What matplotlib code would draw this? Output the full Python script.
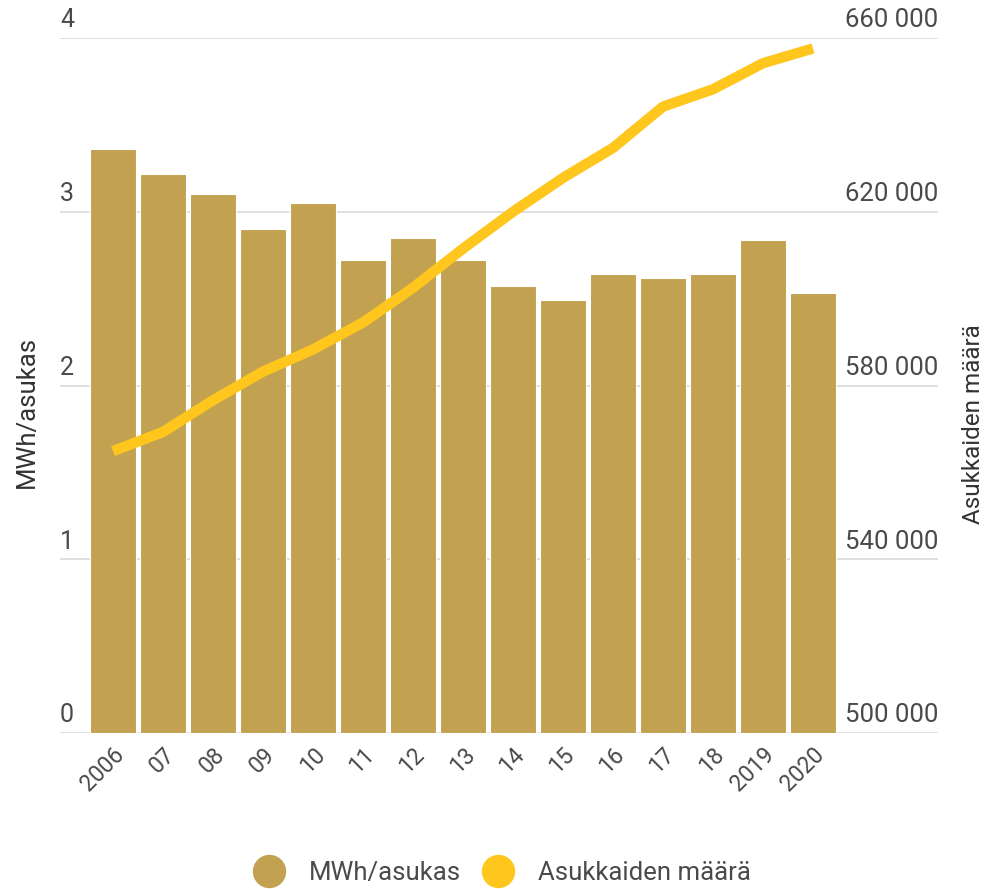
import matplotlib
matplotlib.use("Agg")
import matplotlib.pyplot as plt
from matplotlib.transforms import blended_transform_factory
from matplotlib.lines import Line2D

plt.rcParams['font.family'] = ['Roboto', 'DejaVu Sans']

years = ["2006", "07", "08", "09", "10", "11", "12", "13", "14", "15",
         "16", "17", "18", "2019", "2020"]
mwh_per_resident = [3.36, 3.22, 3.10, 2.90, 3.05, 2.72, 2.85, 2.72, 2.57, 2.49,
                    2.64, 2.62, 2.64, 2.84, 2.53]
population = [564900, 569300, 576600, 583200, 588300, 594500, 602500, 611500,
              620000, 627800, 634700, 644200, 648200, 654200, 657600]
left_ticks = [0, 1, 2, 3, 4]
right_ticks = [500000, 540000, 580000, 620000, 660000]
right_tick_labels = ["500 000", "540 000", "580 000", "620 000", "660 000"]

bar_color = "#C2A150"
line_color = "#FFC61E"
text_color = "#4A4A4A"
grid_color = "#DDDDDD"

W, H = 992, 889
fig = plt.figure(figsize=(W / 100, H / 100), dpi=100)
ax = fig.add_axes([60 / W, (H - 733) / H, (938 - 60) / W, (733 - 38) / H])
ax2 = ax.twinx()

x = list(range(len(years)))
ax.bar(x, mwh_per_resident, width=0.92, color=bar_color, edgecolor="white",
       linewidth=0.8, zorder=2)
ax.set_ylim(0, 4)
ax.set_xlim(-1.06, 16.5)

for t in left_ticks:
    ax.axhline(t, color=grid_color, linewidth=1.3, zorder=1)

ax2.plot(x, population, color=line_color, linewidth=7.5,
         solid_joinstyle="round", solid_capstyle="butt", zorder=3)
ax2.set_ylim(500000, 660000)

for a in (ax, ax2):
    a.set_yticks([])
    for s in a.spines.values():
        s.set_visible(False)
ax.set_zorder(ax2.get_zorder() - 1)
ax.patch.set_visible(False)

ax.set_xticks(x)
ax.set_xticklabels(years, rotation=45, ha="right", va="top",
                   rotation_mode="anchor", fontsize=16.5, color=text_color)
ax.tick_params(axis="x", length=0, pad=7)

tr_left = blended_transform_factory(ax.transAxes, ax.transData)
for t in left_ticks:
    ax.annotate(str(t), xy=(0, t), xycoords=tr_left, xytext=(0, 4),
                textcoords="offset points", ha="left", va="bottom",
                fontsize=18, color=text_color)

tr_right = blended_transform_factory(ax2.transAxes, ax2.transData)
for t, lab in zip(right_ticks, right_tick_labels):
    ax2.annotate(lab, xy=(1, t), xycoords=tr_right, xytext=(0, 4),
                 textcoords="offset points", ha="right", va="bottom",
                 fontsize=18.5, color=text_color)

fig.text(27 / W, (H - 412) / H, "MWh/asukas", rotation=90, ha="center",
         va="center", fontsize=18.5, color="#333333")
fig.text(973 / W, (H - 424) / H, "Asukkaiden määrä", rotation=90, ha="center",
         va="center", fontsize=17.5, color="#333333")

handles = [
    Line2D([], [], marker="o", linestyle="none", markersize=23,
           markerfacecolor=bar_color, markeredgecolor=bar_color),
    Line2D([], [], marker="o", linestyle="none", markersize=23,
           markerfacecolor=line_color, markeredgecolor=line_color),
]
fig.legend(handles, ["MWh/asukas", "Asukkaiden määrä"], loc="center",
           bbox_to_anchor=(497 / W, (H - 873) / H), ncol=2, frameon=False,
           fontsize=18.5, labelcolor=text_color, handletextpad=0.55,
           columnspacing=0.45)

fig.savefig("out.png", dpi=100)
